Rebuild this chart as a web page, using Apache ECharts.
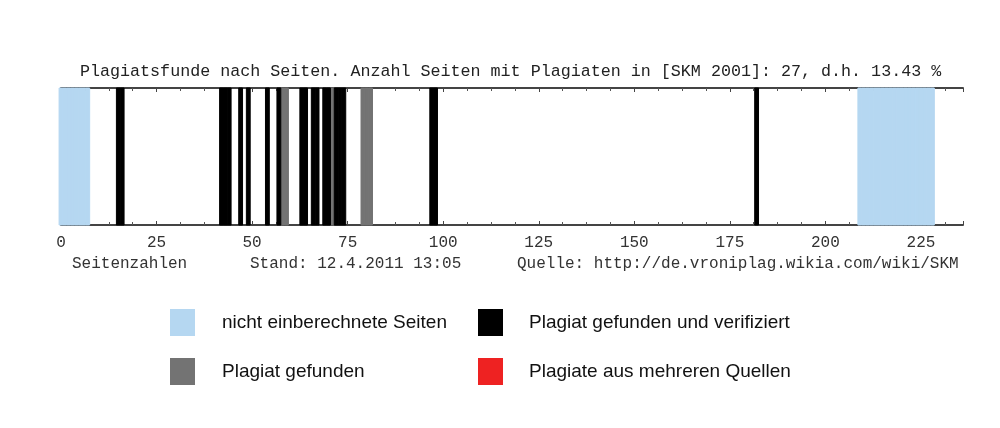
<!DOCTYPE html>
<html>
<head>
<meta charset="utf-8">
<script src="https://cdn.jsdelivr.net/npm/echarts@6/dist/echarts.min.js"></script>
<style>
  html, body { margin: 0; padding: 0; background: #fff; }
  #main { width: 1000px; height: 428px; }
</style>
</head>
<body>
<div id="main"></div>
<script>
// Seiten (Seitenzahlen) je Kategorie
var excludedPages = [0, 1, 2, 3, 4, 5, 6, 7,
	209, 210, 211, 212, 213, 214, 215, 216, 217, 218,
	219, 220, 221, 222, 223, 224, 225, 226, 227, 228];
var verifiedPages = [15, 16, 42, 43, 44, 47, 49, 54, 57, 63, 64, 66, 67,
	69, 70, 72, 73, 74, 97, 98, 182];
var foundPages = [58, 59, 71, 79, 80, 81];
var multiSourcePages = [];

var seriesNames = ['nicht einberechnete Seiten', 'Plagiat gefunden',
	'Plagiat gefunden und verifiziert', 'Plagiate aus mehreren Quellen'];
var titleText = 'Plagiatsfunde nach Seiten. Anzahl Seiten mit Plagiaten in [SKM 2001]: 27, d.h. 13.43 %';

var monoFont = '"Liberation Mono", "DejaVu Sans Mono", monospace';
var legendFont = '"Liberation Sans", Arial, sans-serif';

var chart = echarts.init(document.getElementById('main'));

// ein Rechteck pro Seite, volle Hoehe
function renderPage(params, api) {
	var p = api.value(0);
	var a = api.coord([p - 0.5, 1]);
	var b = api.coord([p + 0.5, 0]);
	var c = api.visual('color');
	return {
		type : 'rect',
		shape : { x : a[0], y : a[1], width : b[0] - a[0], height : b[1] - a[1] },
		style : { fill : c, stroke : c, lineWidth : 1 }
	};
}

function pageSeries(name, pages, color) {
	return {
		name : name,
		type : 'custom',
		renderItem : renderPage,
		itemStyle : { color : color },
		encode : { x : 0 },
		data : pages.map(function(p) { return [p]; }),
		z : 3
	};
}

var axisBase = {
	type : 'value',
	min : 0,
	max : 236,
	interval : 25,
	splitLine : { show : false },
	axisLine : { lineStyle : { color : '#444', width : 2 } },
	axisTick : { inside : true, length : 4, lineStyle : { color : '#444' } },
	minorTick : { show : true, splitNumber : 4, length : 3, lineStyle : { color : '#555' } }
};

var option = {
	backgroundColor : '#fff',
	animation : false,
	title : {
		text : titleText,
		left : 80,
		top : 63,
		padding : 0,
		textStyle : { fontFamily : monoFont, fontSize : 16.7, fontWeight : 'normal', color : '#222' }
	},
	grid : { left : 61, right : 37, top : 88, height : 137 },
	xAxis : [
		Object.assign({}, axisBase, {
			position : 'bottom',
			axisLabel : {
				showMaxLabel : false,
				margin : 10,
				fontFamily : monoFont,
				fontSize : 16,
				color : '#333'
			}
		}),
		Object.assign({}, axisBase, {
			position : 'top',
			axisLabel : { show : false }
		})
	],
	yAxis : { type : 'value', min : 0, max : 1, show : false },
	legend : [
		{
			data : [seriesNames[0], seriesNames[1]],
			orient : 'vertical',
			left : 170, top : 309,
			padding : 0,
			icon : 'rect',
			itemWidth : 25, itemHeight : 27, itemGap : 22,
			selectedMode : false,
			textStyle : { fontFamily : legendFont, fontSize : 19, color : '#111', padding : [0, 0, 0, 22] }
		},
		{
			data : [seriesNames[2], seriesNames[3]],
			orient : 'vertical',
			left : 478, top : 309,
			padding : 0,
			icon : 'rect',
			itemWidth : 25, itemHeight : 27, itemGap : 22,
			selectedMode : false,
			textStyle : { fontFamily : legendFont, fontSize : 19, color : '#111', padding : [0, 0, 0, 21] }
		}
	],
	graphic : [
		{ type : 'text', left : 72, top : 256, style : { text : 'Seitenzahlen', font : '16px ' + monoFont, fill : '#333' } },
		{ type : 'text', left : 250, top : 256, style : { text : 'Stand: 12.4.2011 13:05', font : '16px ' + monoFont, fill : '#333' } },
		{ type : 'text', left : 517, top : 256, style : { text : 'Quelle: http://de.vroniplag.wikia.com/wiki/SKM', font : '16px ' + monoFont, fill : '#333' } }
	],
	series : [
		pageSeries(seriesNames[0], excludedPages, '#b5d7f1'),
		pageSeries(seriesNames[1], foundPages, '#737373'),
		pageSeries(seriesNames[2], verifiedPages, '#000000'),
		pageSeries(seriesNames[3], multiSourcePages, '#ee2222')
	]
};

chart.setOption(option);
</script>
</body>
</html>
